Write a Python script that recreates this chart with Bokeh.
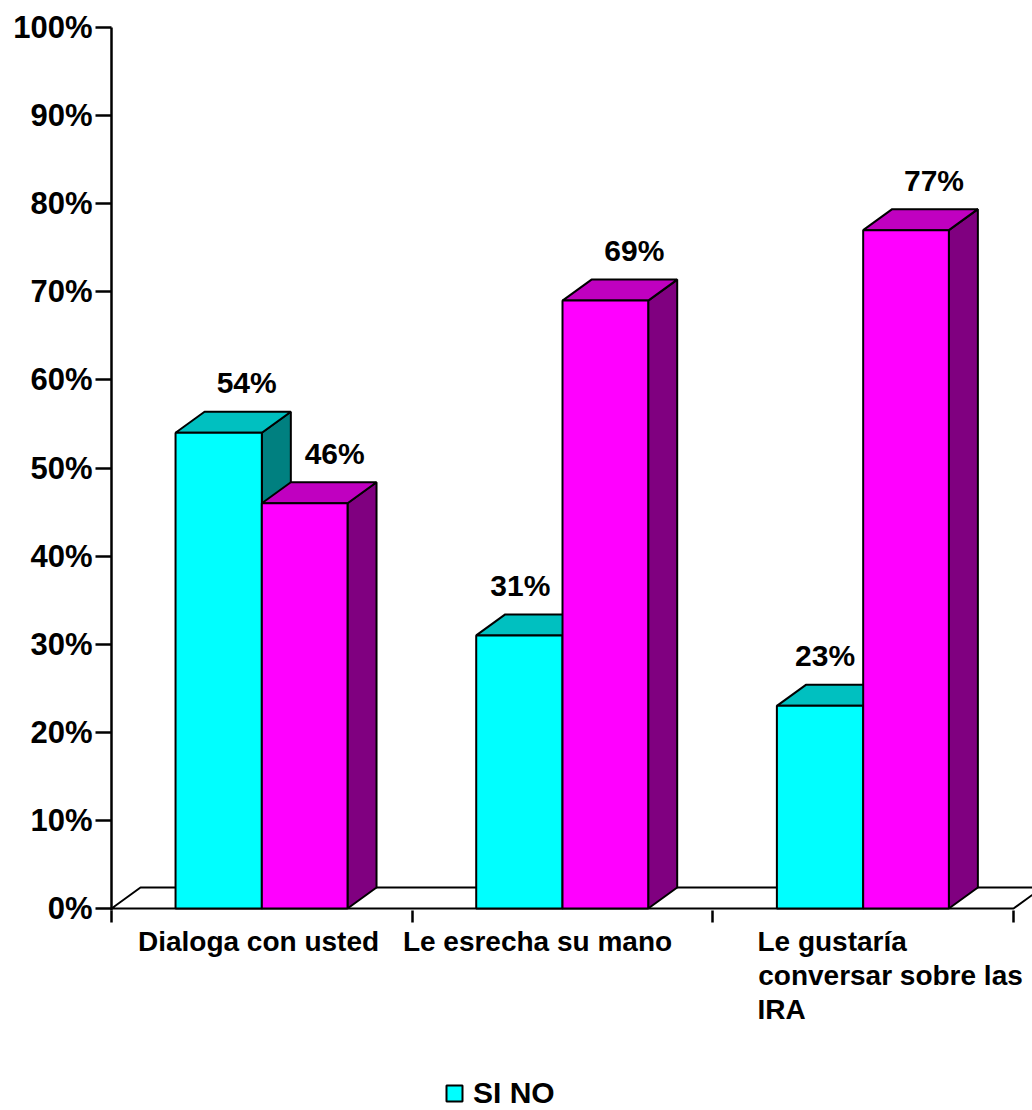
from bokeh.plotting import figure
from bokeh.layouts import column
from bokeh.models import FixedTicker, Legend, LegendItem, Range1d
from bokeh.core.properties import value
from bokeh.embed import file_html
from bokeh.resources import INLINE

# ---- data ----
NB = "\u00a0"
categories = ["Dialoga con usted", "Le esrecha su mano",
              "Le gustaría" + NB * 15 + "\nconversar sobre las\nIRA" + NB * 28]
si_values = [54, 31, 23]
no_values = [46, 69, 77]
y_ticks = [0, 10, 20, 30, 40, 50, 60, 70, 80, 90, 100]
y_tick_labels = ["0%", "10%", "20%", "30%", "40%", "50%", "60%", "70%", "80%", "90%", "100%"]
legend_label = "SI NO"

# ---- layout / style ----
W = 1032
H_MAIN, H_LEG = 1070, 40
B_LEFT, B_RIGHT, B_TOP, B_BOTTOM = 111, 0, 27, 160
UNIT_PX = 300.67          # pixels per category
PCT_PX = 8.81             # pixels per percent
frame_w = W - B_LEFT - B_RIGHT
x_end = frame_w / UNIT_PX
y_start = -2.0 / PCT_PX
DX = 29.0 / UNIT_PX       # depth offset (x)
DY = 21.0 / PCT_PX        # depth offset (y)
FONT = "Liberation Sans"
# label placement (pixels): horizontal shift of value labels, centre of category labels
SI_LABEL_SHIFT = [28, 1, 5]
NO_LABEL_SHIFT = [30, 29, 28]
CAT_LABEL_CENTER = [258, 537, 890]

p = figure(width=W, height=H_MAIN, output_backend="svg", toolbar_location=None,
           x_range=Range1d(0, x_end), y_range=Range1d(y_start, 100),
           min_border_left=B_LEFT, min_border_right=B_RIGHT,
           min_border_top=B_TOP, min_border_bottom=B_BOTTOM)
p.outline_line_color = None
p.grid.visible = False
p.background_fill_color = "white"
p.border_fill_color = "white"

# floor
n = len(categories)
p.patch([0, n, n + DX, DX], [0, 0, DY, DY], fill_color="white",
        line_color="black", line_width=2)

si_x0 = [i + 0.213 for i in range(n)]
si_x1 = [i + 0.5 for i in range(n)]
no_x0 = [i + 0.5 for i in range(n)]
no_x1 = [i + 0.785 for i in range(n)]

SI_COLORS = ("#00FFFF", "#00C0C0", "#008080")
NO_COLORS = ("#FF00FF", "#C000C0", "#800080")
series = [
    (si_values, si_x0, si_x1, SI_COLORS, SI_LABEL_SHIFT),
    (no_values, no_x0, no_x1, NO_COLORS, NO_LABEL_SHIFT),
]
for vals, x0s, x1s, (cf, ct, cs), _ in series:
    tops_x = [[a, b, b + DX, a + DX] for a, b in zip(x0s, x1s)]
    tops_y = [[v, v, v + DY, v + DY] for v in vals]
    sides_x = [[b, b + DX, b + DX, b] for b in x1s]
    sides_y = [[0, DY, v + DY, v] for v in vals]
    p.patches(sides_x, sides_y, fill_color=cs, line_color="black", line_width=2)
    p.patches(tops_x, tops_y, fill_color=ct, line_color="black", line_width=2)
    p.quad(left=x0s, right=x1s, bottom=[0] * n, top=vals, fill_color=cf,
           line_color="black", line_width=2)

# value labels
lab_x, lab_y, lab_t = [], [], []
for vals, x0s, x1s, _, shifts in series:
    for v, a, b, s in zip(vals, x0s, x1s, shifts):
        lab_x.append((a + b) / 2 + s / UNIT_PX)
        lab_y.append(v + 50.0 / PCT_PX)
        lab_t.append(f"{v}%")
p.text(x=lab_x, y=lab_y, text=lab_t, text_align="center", text_baseline="middle",
       text_font=value(FONT), text_font_style="bold", text_font_size="30px",
       text_color="black")

# y axis
ya = p.yaxis[0]
ya.ticker = FixedTicker(ticks=y_ticks, minor_ticks=[])
ya.major_label_overrides = {t: l for t, l in zip(y_ticks, y_tick_labels)}
ya.major_tick_out = 16
ya.major_tick_in = 0
ya.axis_line_width = 2.5
ya.major_tick_line_width = 2.5
ya.axis_line_color = "black"
ya.major_label_text_font = FONT
ya.major_label_text_font_style = "bold"
ya.major_label_text_font_size = "31px"
ya.major_label_text_color = "black"
ya.major_label_standoff = 3

# x axis (categories)
cat_ticks = [(x - B_LEFT) / UNIT_PX for x in CAT_LABEL_CENTER]
xa = p.xaxis[0]
xa.ticker = FixedTicker(ticks=cat_ticks, minor_ticks=list(range(n + 1)))
xa.major_label_overrides = {t: c for t, c in zip(cat_ticks, categories)}
xa.axis_line_color = None
xa.major_tick_out = 0
xa.major_tick_in = 0
xa.minor_tick_out = 12
xa.minor_tick_in = 0
xa.minor_tick_line_width = 2.5
xa.minor_tick_line_color = "black"
xa.major_label_text_font = FONT
xa.major_label_text_font_style = "bold"
xa.major_label_text_font_size = "28px"
xa.major_label_text_color = "black"
xa.major_label_text_line_height = 1.1
xa.major_label_standoff = 3

# legend strip below the chart (its frame is aligned with the chart frame)
q = figure(width=W, height=H_LEG, output_backend="svg", toolbar_location=None,
           x_range=Range1d(0, 1), y_range=Range1d(0, 1),
           min_border=0, x_axis_location=None, y_axis_location=None)
q.outline_line_color = None
q.grid.visible = False
swatch = q.quad(left=[2], right=[3], bottom=[2], top=[3], fill_color=SI_COLORS[0],
                line_color="black", line_width=2)
legend = Legend(items=[LegendItem(label=legend_label, renderers=[swatch])],
                location=(333, 0), orientation="horizontal",
                padding=0, margin=0, spacing=0, glyph_width=20, glyph_height=20,
                label_standoff=9, border_line_color=None, background_fill_alpha=0,
                label_text_font=FONT, label_text_font_style="bold",
                label_text_font_size="30px", label_text_line_height=1.0,
                label_text_color="black")
q.add_layout(legend)

layout = column(p, q, spacing=0)
open("out.html", "w").write(file_html(layout, INLINE))
